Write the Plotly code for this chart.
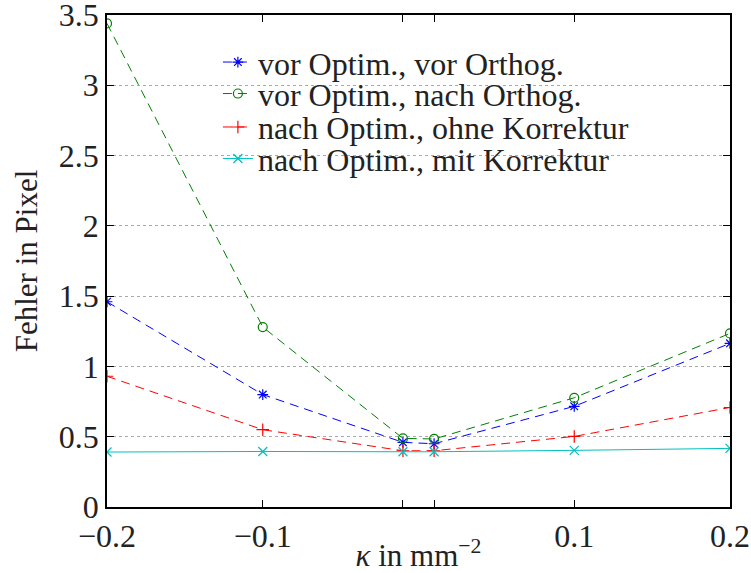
import plotly.graph_objects as go

# Curvature values (kappa in mm^-2)
kappa = [-0.2, -0.1, -0.01, 0.01, 0.1, 0.2]

# Reprojection error in pixels for each variant
vor_opt_vor_orth = [1.46, 0.80, 0.46, 0.45, 0.716, 1.164]
vor_opt_nach_orth = [3.44, 1.28, 0.488, 0.484, 0.777, 1.235]
nach_opt_ohne_korr = [0.93, 0.55, 0.40, 0.40, 0.502, 0.708]
nach_opt_mit_korr = [0.391, 0.395, 0.393, 0.393, 0.403, 0.417]

x_tick_vals = [-0.2, -0.1, -0.01, 0.01, 0.1, 0.2]
x_tick_text = ["\u22120.2", "\u22120.1", "", "", "0.1", "0.2"]
y_tick_vals = [0, 0.5, 1, 1.5, 2, 2.5, 3, 3.5]
y_tick_text = ["0", "0.5", "1", "1.5", "2", "2.5", "3", "3.5"]

series = [
    ("vor Optim., vor Orthog.", vor_opt_vor_orth, "rgb(0,0,255)", "asterisk-open", "9px,6px"),
    ("vor Optim., nach Orthog.", vor_opt_nach_orth, "rgb(0,128,0)", "circle-open", "9px,6px"),
    ("nach Optim., ohne Korrektur", nach_opt_ohne_korr, "rgb(255,0,0)", "cross-thin-open", "9px,6px"),
    ("nach Optim., mit Korrektur", nach_opt_mit_korr, "rgb(0,191,191)", "x-thin-open", "solid"),
]

# One legend box per entry so the rows sit with a tight line spacing
legend_ids = ["legend", "legend2", "legend3", "legend4"]
legend_rows_y = [0.904, 0.840, 0.772, 0.708]

font_family = "Liberation Serif"
text_color = "#222222"

fig = go.Figure()
for (name, vals, color, symbol, dash), lid in zip(series, legend_ids):
    fig.add_trace(go.Scatter(
        x=kappa, y=vals, name=name, mode="lines+markers",
        line=dict(color=color, width=1, dash=dash),
        marker=dict(symbol=symbol, size=9, color=color,
                    line=dict(color=color, width=1.2)),
        legend=lid,
    ))

legend_layout = {}
for lid, ly in zip(legend_ids, legend_rows_y):
    legend_layout[lid] = dict(
        x=0.178, y=ly, xanchor="left", yanchor="middle",
        bgcolor="rgba(0,0,0,0)", borderwidth=0,
        font=dict(family=font_family, size=32, color=text_color),
    )

fig.update_layout(
    width=751, height=573,
    margin=dict(l=107, r=21, t=15, b=66),
    paper_bgcolor="white", plot_bgcolor="white",
    font=dict(family=font_family, color=text_color, size=30),
    showlegend=True,
    xaxis=dict(
        range=[-0.2, 0.2], tickvals=x_tick_vals, ticktext=x_tick_text,
        ticks="inside", ticklen=7, tickwidth=1, tickcolor="black",
        showline=True, linecolor="black", linewidth=1.5, mirror="ticks",
        showgrid=False, zeroline=False, automargin=False,
        ticklabeloverflow="allow",
        tickfont=dict(family=font_family, size=32, color=text_color),
        title=dict(text="<i>\u03ba</i> in mm<sup>\u22122</sup>",
                   font=dict(family=font_family, size=31, color=text_color),
                   standoff=2),
    ),
    yaxis=dict(
        range=[0, 3.5], tickvals=y_tick_vals, ticktext=y_tick_text,
        ticks="inside", ticklen=7, tickwidth=1, tickcolor="black",
        showline=True, linecolor="black", linewidth=1.5, mirror="ticks",
        showgrid=True, gridcolor="#aaaaaa", gridwidth=1, griddash="dot",
        zeroline=False, automargin=False,
        ticklabeloverflow="allow",
        tickfont=dict(family=font_family, size=32, color=text_color),
        title=dict(text="Fehler in Pixel",
                   font=dict(family=font_family, size=31, color=text_color),
                   standoff=12),
    ),
    **legend_layout,
)

fig.write_html("out.html")
